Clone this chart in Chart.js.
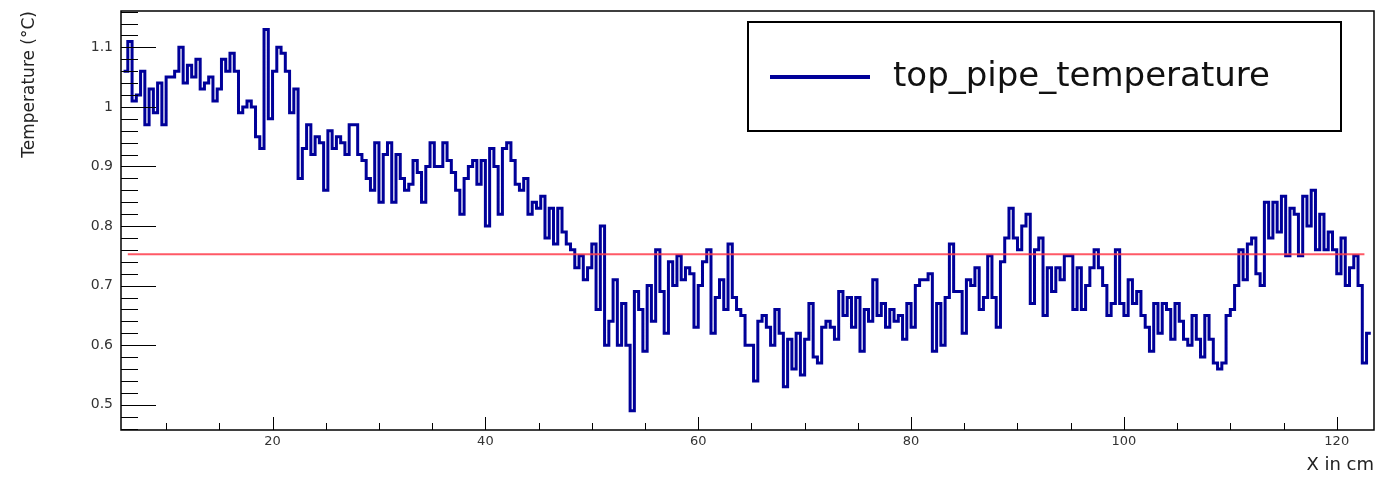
<!DOCTYPE html>
<html>
<head>
<meta charset="utf-8">
<script src="https://cdn.jsdelivr.net/npm/chart.js@4.4.1/dist/chart.umd.min.js"></script>
<style>
  html, body { margin: 0; padding: 0; background: #fff; }
  #wrap { width: 1379px; height: 477px; }
</style>
</head>
<body>
<div id="wrap"><canvas id="chart" width="1379" height="477"></canvas></div>
<script>
// histogram bins, 0.4 cm wide in four stretches
const binWidth = 0.4;

const seg1Start = 6.0;
const seg1 = [
  1.06, 1.11, 1.01, 1.02, 1.06, 0.97, 1.03, 0.99, 1.04, 0.97,
  1.05, 1.05, 1.06, 1.10, 1.04, 1.07, 1.05, 1.08, 1.03, 1.04,
  1.05, 1.01, 1.03, 1.08, 1.06, 1.09, 1.06, 0.99, 1.00, 1.01,
  1.00, 0.95, 0.93, 1.13, 0.98, 1.06, 1.10, 1.09, 1.06, 0.99,
  1.03, 0.88, 0.93, 0.97, 0.92, 0.95, 0.94, 0.86, 0.96, 0.93,
  0.95, 0.94, 0.92, 0.97, 0.97, 0.92, 0.91, 0.88, 0.86, 0.94,
  0.84, 0.92, 0.94, 0.84, 0.92, 0.88, 0.86, 0.87, 0.91, 0.89,
  0.84, 0.90, 0.94, 0.90
];

const seg2Start = 35.6;
const seg2 = [
  0.90, 0.94, 0.91, 0.89, 0.86, 0.82, 0.88, 0.90, 0.91, 0.87,
  0.91, 0.80, 0.93, 0.90, 0.82, 0.93, 0.94, 0.91, 0.87, 0.86,
  0.88, 0.82, 0.84, 0.83, 0.85, 0.78, 0.83, 0.77, 0.83, 0.79,
  0.77, 0.76, 0.73, 0.75, 0.71, 0.73, 0.77, 0.66, 0.80, 0.60,
  0.64, 0.71, 0.60, 0.67, 0.60, 0.49, 0.69, 0.66, 0.59, 0.70,
  0.64, 0.76, 0.69, 0.62, 0.74, 0.70, 0.75, 0.71, 0.73, 0.72,
  0.63, 0.70, 0.74, 0.76, 0.62, 0.68, 0.71, 0.66, 0.77, 0.68,
  0.66, 0.65, 0.60
];

const seg3Start = 64.8;
const seg3 = [
  0.60, 0.54, 0.64, 0.65, 0.63, 0.60, 0.66, 0.62, 0.53, 0.61,
  0.56, 0.62, 0.55, 0.61, 0.67, 0.58, 0.57, 0.63, 0.64, 0.63,
  0.61, 0.69, 0.65, 0.68, 0.63, 0.68, 0.59, 0.66, 0.64, 0.71,
  0.65, 0.67, 0.63, 0.66, 0.64, 0.65, 0.61, 0.67, 0.63, 0.70,
  0.71, 0.71, 0.72, 0.59, 0.67, 0.60, 0.68, 0.77, 0.69, 0.69,
  0.62, 0.71, 0.70, 0.73, 0.66, 0.68, 0.75, 0.68, 0.63, 0.74,
  0.78, 0.83, 0.78, 0.76, 0.80, 0.82, 0.67, 0.76, 0.78, 0.65,
  0.73, 0.69, 0.73
];

const seg4Start = 94.0;
const seg4 = [
  0.71, 0.75, 0.75, 0.66, 0.73, 0.66, 0.70, 0.73, 0.76, 0.73,
  0.70, 0.65, 0.67, 0.76, 0.67, 0.65, 0.71, 0.67, 0.69, 0.65,
  0.63, 0.59, 0.67, 0.62, 0.67, 0.66, 0.61, 0.67, 0.64, 0.61,
  0.60, 0.65, 0.61, 0.58, 0.65, 0.61, 0.57, 0.56, 0.57, 0.65,
  0.66, 0.70, 0.76, 0.71, 0.77, 0.78, 0.72, 0.70, 0.84, 0.78,
  0.84, 0.79, 0.85, 0.75, 0.83, 0.82, 0.75, 0.85, 0.80, 0.86,
  0.76, 0.82, 0.76, 0.79, 0.76, 0.72, 0.78, 0.70, 0.73, 0.75,
  0.70, 0.57, 0.62
];

// constant (pol0) fit drawn in red
const fitValue = 0.7527;
const fitRange = [6.4, 122.6];

const xMajorTicks = [20, 40, 60, 80, 100, 120];
const xMinorStep = 5;
const yMajorTicks = [0.5, 0.6, 0.7, 0.8, 0.9, 1.0, 1.1];
const yMinorStep = 0.02;

const xRange = [5.76, 123.5];
const yRange = [0.4576, 1.161];

// bin low edges -> points for a stepped outline
function histPoints() {
  const pts = [];
  [[seg1Start, seg1], [seg2Start, seg2], [seg3Start, seg3], [seg4Start, seg4]].forEach(([start, vals]) => {
    vals.forEach((v, i) => pts.push({ x: +(start + i * binWidth).toFixed(2), y: v }));
  });
  const last = pts[pts.length - 1];
  pts.push({ x: +(last.x + binWidth).toFixed(2), y: last.y });
  return pts;
}

const BLUE = '#000099';

// ROOT-like frame with ticks pointing into the pad, plus the boxed legend
const rootFrame = {
  id: 'rootFrame',
  afterDatasetsDraw(chart) {
    const { ctx, chartArea: a, scales: { x, y } } = chart;
    ctx.save();
    ctx.strokeStyle = '#000';
    ctx.lineWidth = 1;
    ctx.beginPath();
    // y ticks
    for (let k = Math.ceil(yRange[0] / yMinorStep); k * yMinorStep <= yRange[1]; k++) {
      const v = k * yMinorStep;
      const major = yMajorTicks.some(t => Math.abs(t - v) < 1e-6);
      const py = Math.round(y.getPixelForValue(v)) + 0.5;
      ctx.moveTo(a.left, py);
      ctx.lineTo(a.left + (major ? 35 : 17), py);
    }
    // x ticks
    for (let k = Math.ceil(xRange[0] / xMinorStep); k * xMinorStep <= xRange[1]; k++) {
      const v = k * xMinorStep;
      const major = xMajorTicks.includes(v);
      const px = Math.round(x.getPixelForValue(v)) + 0.5;
      ctx.moveTo(px, a.bottom);
      ctx.lineTo(px, a.bottom - (major ? 13 : 7));
    }
    ctx.stroke();
    ctx.lineWidth = 1.5;
    ctx.strokeRect(a.left, a.top, a.right - a.left, a.bottom - a.top);

    // legend box
    const box = { left: 748, top: 22, width: 593, height: 109 };
    ctx.fillStyle = '#fff';
    ctx.fillRect(box.left, box.top, box.width, box.height);
    ctx.lineWidth = 2;
    ctx.strokeRect(box.left, box.top, box.width, box.height);
    const midY = box.top + 55;
    ctx.strokeStyle = BLUE;
    ctx.lineWidth = 4;
    ctx.beginPath();
    ctx.moveTo(box.left + 22, midY);
    ctx.lineTo(box.left + 122, midY);
    ctx.stroke();
    ctx.fillStyle = '#111';
    ctx.font = '34px "DejaVu Sans", sans-serif';
    ctx.textBaseline = 'middle';
    ctx.fillText(chart.data.datasets[1].label, box.left + 145, midY);
    ctx.restore();
  }
};

new Chart(document.getElementById('chart'), {
  type: 'line',
  data: {
    datasets: [
      {
        label: 'fit',
        data: [{ x: fitRange[0], y: fitValue }, { x: fitRange[1], y: fitValue }],
        borderColor: 'rgba(255, 60, 75, 0.85)',
        borderWidth: 2,
        pointRadius: 0,
        order: 1
      },
      {
        label: 'top_pipe_temperature',
        data: histPoints(),
        borderColor: BLUE,
        borderWidth: 3,
        pointRadius: 0,
        stepped: true,
        fill: false,
        order: 2
      }
    ]
  },
  options: {
    responsive: false,
    animation: false,
    events: [],
    layout: { padding: { top: 11, right: 5, left: 0, bottom: 0 } },
    plugins: {
      legend: { display: false },
      tooltip: { enabled: false }
    },
    scales: {
      x: {
        type: 'linear',
        min: xRange[0],
        max: xRange[1],
        afterBuildTicks: s => { s.ticks = xMajorTicks.map(v => ({ value: v })); },
        afterFit: s => { s.height = 47; s.paddingLeft = 0; s.paddingRight = 0; },
        grid: { display: false, drawTicks: false },
        border: { display: false },
        ticks: {
          padding: 4,
          color: '#333',
          maxRotation: 0,
          font: { family: 'DejaVu Sans', size: 13 },
          callback: v => String(v)
        },
        title: {
          display: true,
          text: 'X in cm',
          align: 'end',
          color: '#222',
          padding: { top: 0, bottom: 1 },
          font: { family: 'DejaVu Sans', size: 18 }
        }
      },
      y: {
        type: 'linear',
        min: yRange[0],
        max: yRange[1],
        afterBuildTicks: s => { s.ticks = yMajorTicks.map(v => ({ value: v })); },
        afterFit: s => { s.width = 121; s.paddingTop = 0; s.paddingBottom = 0; },
        grid: { display: false, drawTicks: false },
        border: { display: false },
        ticks: {
          padding: 8,
          color: '#333',
          font: { family: 'DejaVu Sans', size: 14 },
          callback: v => String(+v.toFixed(1))
        },
        title: {
          display: true,
          text: 'Temperature (°C)',
          align: 'end',
          color: '#222',
          padding: { top: 19, bottom: 0 },
          font: { family: 'DejaVu Sans', size: 17 }
        }
      }
    }
  },
  plugins: [rootFrame]
});
</script>
</body>
</html>
